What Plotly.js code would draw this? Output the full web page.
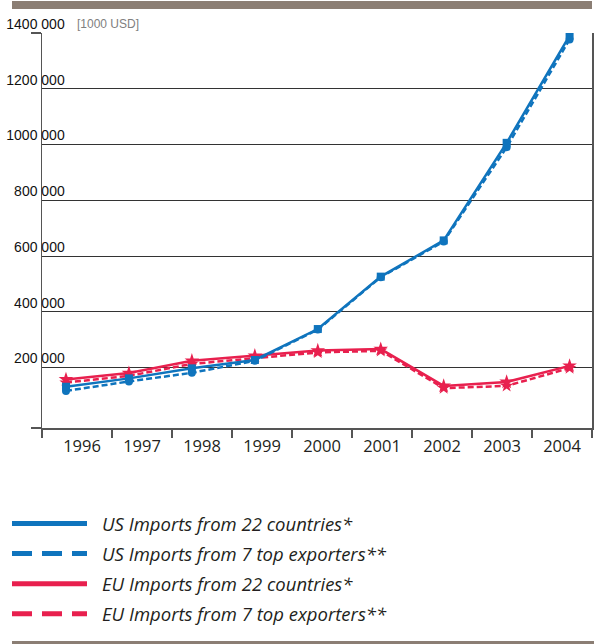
<!DOCTYPE html>
<html>
<head>
<meta charset="utf-8">
<script src="https://cdn.plot.ly/plotly-3.0.1.min.js"></script>
<style>
html,body{margin:0;padding:0;background:#fff;}
#chart{width:594px;height:644px;}
</style>
</head>
<body>
<div id="chart"></div>
<script>
// ---- data ----
var years = [1996, 1997, 1998, 1999, 2000, 2001, 2002, 2003, 2004];
var yearLabels = ['1996', '1997', '1998', '1999', '2000', '2001', '2002', '2003', '2004'];
var usImports22 = [131000, 161000, 197000, 227000, 338000, 526000, 656000, 1006000, 1391000];
var usImports7 = [116000, 150000, 181000, 224000, 336000, 524000, 652000, 990000, 1377000];
var euImports22 = [157000, 180000, 224000, 242000, 261000, 266000, 134000, 148000, 206000];
var euImports7 = [146000, 170000, 213000, 234000, 254000, 260000, 126000, 134000, 198000];
var yTickVals = [200000, 400000, 600000, 800000, 1000000, 1200000, 1400000];
var yTickText = ['200 000', '400 000', '600 000', '800 000', '1000 000', '1200 000', '1400 000'];
var seriesNames = [
  'US Imports from 22 countries*',
  'US Imports from 7 top exporters**',
  'EU Imports from 22 countries*',
  'EU Imports from 7 top exporters**'
];
var unitLabel = '[1000 USD]';

// ---- style ----
var BLUE = '#0f74bd';
var RED = '#e8204e';
var BAR = '#8b7e74';
var DARK = '#231f20';
var NARROW = 'Liberation Sans Narrow, Liberation Sans, Arial, sans-serif';

var nulls = years.map(function () { return null; });

var traces = [
  {x: years, y: euImports7, mode: 'lines+markers', name: seriesNames[3], showlegend: false,
   line: {color: RED, width: 2.5, dash: '6px,3px'}, marker: {symbol: 'star', size: 10, color: RED}},
  {x: years, y: euImports22, mode: 'lines+markers', name: seriesNames[2], showlegend: false,
   line: {color: RED, width: 2.5}, marker: {symbol: 'star', size: 11, color: RED}},
  {x: years, y: usImports7, mode: 'lines+markers', name: seriesNames[1], showlegend: false,
   line: {color: BLUE, width: 2.5, dash: '6px,3px'}, marker: {symbol: 'circle', size: 8, color: BLUE}},
  {x: years, y: usImports22, mode: 'lines+markers', name: seriesNames[0], showlegend: false,
   line: {color: BLUE, width: 2.5}, marker: {symbol: 'square', size: 8, color: BLUE}},
  // label axis carrier
  {x: years, y: nulls, xaxis: 'x2', mode: 'lines', showlegend: false, hoverinfo: 'skip'},
  // legend entries
  {x: [null], y: [null], mode: 'lines', name: seriesNames[0], legendgroup: 'a', line: {color: BLUE, width: 5}},
  {x: [null], y: [null], mode: 'lines', name: seriesNames[1], legendgroup: 'b', line: {color: BLUE, width: 5, dash: '20px,10px'}},
  {x: [null], y: [null], mode: 'lines', name: seriesNames[2], legendgroup: 'c', line: {color: RED, width: 5}},
  {x: [null], y: [null], mode: 'lines', name: seriesNames[3], legendgroup: 'd', line: {color: RED, width: 5, dash: '20px,10px'}}
];

var layout = {
  width: 594, height: 644,
  margin: {l: 42, r: 2, t: 33, b: 216, pad: 0, autoexpand: false},
  paper_bgcolor: '#fff', plot_bgcolor: '#fff',
  showlegend: true,
  xaxis: {
    range: [1995.619, 2004.356], showticklabels: false, ticks: '', showgrid: false,
    zeroline: false, showline: true, linecolor: '#555', linewidth: 1.5, fixedrange: true
  },
  xaxis2: {
    overlaying: 'x', anchor: 'y', side: 'bottom',
    range: [1995.3334, 2004.5], tickmode: 'array', tickvals: years, ticktext: yearLabels,
    ticks: '', showgrid: false, zeroline: false, showline: false, tickangle: 0,
    tickfont: {family: 'Open Sans, sans-serif', size: 16.5, color: DARK},
    ticklabelstandoff: 6,
    minor: {tickmode: 'array', tickvals: [1995.3334, 1996.5, 1997.5, 1998.5, 1999.5, 2000.5, 2001.5, 2002.5, 2003.5, 2004.5],
            ticks: 'outside', ticklen: 9, tickwidth: 1.5, tickcolor: '#555', showgrid: false},
    fixedrange: true
  },
  yaxis: {
    range: [-17000, 1400000], tickmode: 'array', tickvals: yTickVals, ticktext: yTickText,
    ticks: '', showgrid: true, gridcolor: '#333', gridwidth: 1, zeroline: false,
    showline: true, mirror: true, linecolor: '#555', linewidth: 1.5,
    tickfont: {family: NARROW, size: 14, color: '#111'},
    ticklabelstandoff: -27, ticklabelshift: -9,
    minor: {tickmode: 'array', tickvals: [-17000, 1400000], ticks: 'outside', ticklen: 10, tickwidth: 1.5, tickcolor: '#555', showgrid: false},
    fixedrange: true
  },
  legend: {
    xref: 'container', yref: 'container', x: 7 / 594, y: 1 - 505 / 644, xanchor: 'left', yanchor: 'top',
    bgcolor: 'rgba(0,0,0,0)', borderwidth: 0, itemwidth: 85, tracegroupgap: 3,
    font: {family: 'Open Sans, sans-serif', size: 18.5, color: DARK, style: 'italic'},
    itemclick: false, itemdoubleclick: false
  },
  annotations: [
    {xref: 'paper', yref: 'paper', x: (75 - 42) / 550, y: 1, xanchor: 'left', yanchor: 'bottom', yshift: 0,
     text: unitLabel, showarrow: false,
     font: {family: NARROW, size: 12, color: '#808080'}}
  ],
  shapes: [
    {type: 'rect', xref: 'paper', yref: 'paper', x0: (12 - 42) / 550, x1: (592 - 42) / 550,
     y0: (428 - 1) / 395, y1: (428 - 9) / 395, fillcolor: BAR, line: {width: 0}, layer: 'above'},
    {type: 'rect', xref: 'paper', yref: 'paper', x0: (12 - 42) / 550, x1: (594 - 42) / 550,
     y0: (428 - 641) / 395, y1: (428 - 645) / 395, fillcolor: BAR, line: {width: 0}, layer: 'above'}
  ]
};

Plotly.newPlot('chart', traces, layout, {displayModeBar: false, staticPlot: true}).then(function () {
  var paths = document.querySelectorAll('.legend .legendlines path');
  paths.forEach(function (p) { p.setAttribute('d', 'M5,0h75'); });
});
</script>
</body>
</html>
